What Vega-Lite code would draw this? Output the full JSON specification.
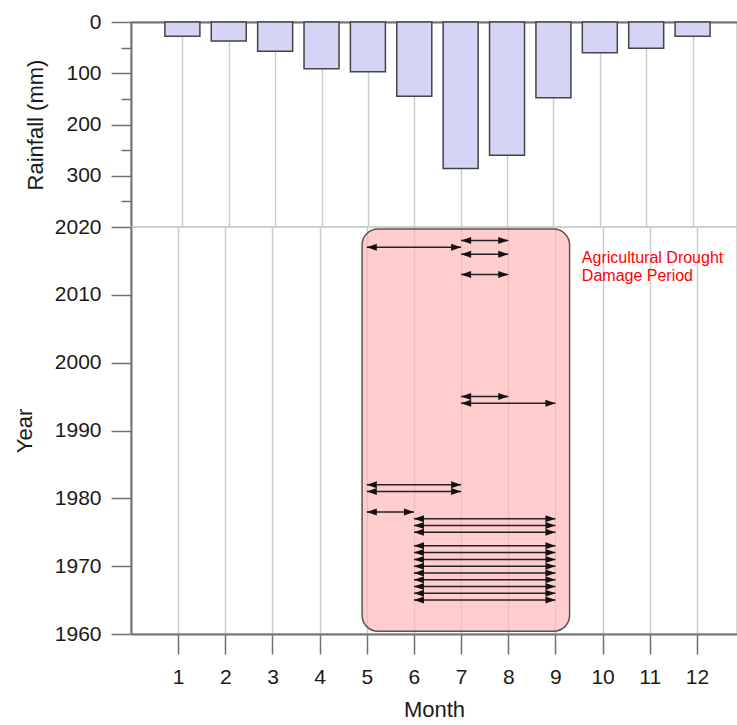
{
  "$schema": "https://vega.github.io/schema/vega-lite/v6.json",
  "padding": {"left": 12, "top": 10, "right": 0, "bottom": 5},
  "background": "white",
  "spacing": 0,
  "bounds": "flush",
  "config": {
    "font": "Liberation Sans",
    "view": {"stroke": "#cccccc", "strokeWidth": 1.5},
    "axis": {
      "labelFont": "Liberation Sans", "labelFontSize": 21, "labelColor": "#1a1a1a",
      "titleFont": "Liberation Sans", "titleFontSize": 22, "titleFontWeight": "normal", "titleColor": "#1a1a1a",
      "domainColor": "#707070", "domainWidth": 2, "tickColor": "#707070", "tickWidth": 1.5,
      "gridColor": "#cccccc", "gridWidth": 1.5, "labelOverlap": false
    }
  },
  "vconcat": [
    {
      "width": 606, "height": 205,
      "data": {"values": [
        {"month": 1, "rain": 28}, {"month": 2, "rain": 37}, {"month": 3, "rain": 57},
        {"month": 4, "rain": 91}, {"month": 5, "rain": 97}, {"month": 6, "rain": 145},
        {"month": 7, "rain": 286}, {"month": 8, "rain": 260}, {"month": 9, "rain": 148},
        {"month": 10, "rain": 60}, {"month": 11, "rain": 51}, {"month": 12, "rain": 28}
      ]},
      "mark": {"type": "bar", "orient": "vertical", "width": 35, "fill": "#d4d4f6", "stroke": "#444444", "strokeWidth": 1.5},
      "encoding": {
        "x": {"field": "month", "type": "quantitative", "scale": {"domain": [0, 12.85], "nice": false, "zero": false},
          "axis": {"orient": "top", "title": null, "labels": false, "ticks": false, "domain": true, "grid": true, "values": [1,2,3,4,5,6,7,8,9,10,11,12]}},
        "y": {"field": "rain", "type": "quantitative", "title": "Rainfall (mm)", "scale": {"domain": [0, 400], "reverse": true, "nice": false},
          "axis": {"values": [0,50,100,150,200,250,300,350], "grid": false, "tickSize": {"condition": {"test": "datum.value % 100 === 0", "value": 20}, "value": 10},
            "labelExpr": "datum.value % 100 === 0 ? datum.label : ''", "labelPadding": 10, "titlePadding": 18}}
      }
    },
    {
      "width": 606, "height": 407,
      "layer": [
        {
          "data": {"values": [{"start": 4.9, "end": 9.3, "top": 2019.7, "bottom": 1960.4}]},
          "mark": {"type": "rect", "cornerRadius": 16, "fill": "#ffb8b8", "fillOpacity": 0.7, "stroke": "#555555", "strokeWidth": 1.5},
          "encoding": {
            "x": {"field": "start", "type": "quantitative", "title": "Month", "scale": {"domain": [0, 12.85], "nice": false, "zero": false},
              "axis": {"values": [1,2,3,4,5,6,7,8,9,10,11,12], "grid": true, "tickSize": 20, "labelPadding": 12, "titlePadding": 12}},
            "x2": {"field": "end"},
            "y": {"field": "top", "type": "quantitative", "title": "Year", "scale": {"domain": [1960, 2020], "nice": false, "zero": false},
              "axis": {"values": [1960,1965,1970,1975,1980,1985,1990,1995,2000,2005,2010,2015,2020], "grid": false, "format": "d",
                "tickSize": {"condition": {"test": "datum.value % 10 === 0", "value": 20}, "value": 10},
                "labelExpr": "datum.value % 10 === 0 ? datum.label : ''", "labelPadding": 10, "titlePadding": 18}},
            "y2": {"field": "bottom"}
          }
        },
        {
          "data": {"name": "arrows", "values": [
            {"year": 2018, "start": 7, "end": 8}, {"year": 2017, "start": 5, "end": 7},
            {"year": 2016, "start": 7, "end": 8}, {"year": 2013, "start": 7, "end": 8},
            {"year": 1995, "start": 7, "end": 8}, {"year": 1994, "start": 7, "end": 9},
            {"year": 1982, "start": 5, "end": 7}, {"year": 1981, "start": 5, "end": 7},
            {"year": 1978, "start": 5, "end": 6}, {"year": 1977, "start": 6, "end": 9},
            {"year": 1976, "start": 6, "end": 9}, {"year": 1975, "start": 6, "end": 9},
            {"year": 1973, "start": 6, "end": 9}, {"year": 1972, "start": 6, "end": 9},
            {"year": 1971, "start": 6, "end": 9}, {"year": 1970, "start": 6, "end": 9},
            {"year": 1969, "start": 6, "end": 9}, {"year": 1968, "start": 6, "end": 9},
            {"year": 1967, "start": 6, "end": 9}, {"year": 1966, "start": 6, "end": 9},
            {"year": 1965, "start": 6, "end": 9}
          ]},
          "layer": [
            {
              "mark": {"type": "rule", "color": "#222222", "strokeWidth": 1.5},
              "encoding": {
                "x": {"field": "start", "type": "quantitative", "title": "Month"},
                "x2": {"field": "end"},
                "y": {"field": "year", "type": "quantitative", "title": "Year"}
              }
            },
            {
              "mark": {"type": "point", "shape": "M0,0L2,-0.7L2,0.7Z", "filled": true, "color": "#111111", "size": 100, "opacity": 1, "strokeWidth": 0},
              "encoding": {
                "x": {"field": "start", "type": "quantitative", "title": "Month"},
                "y": {"field": "year", "type": "quantitative", "title": "Year"}
              }
            },
            {
              "mark": {"type": "point", "shape": "M0,0L-2,-0.7L-2,0.7Z", "filled": true, "color": "#111111", "size": 100, "opacity": 1, "strokeWidth": 0},
              "encoding": {
                "x": {"field": "end", "type": "quantitative", "title": "Month"},
                "y": {"field": "year", "type": "quantitative", "title": "Year"}
              }
            }
          ]
        },
        {
          "data": {"values": [{"month": 9.56, "year": 2015.4, "label": "Agricultural Drought\nDamage Period"}]},
          "mark": {"type": "text", "align": "left", "baseline": "middle", "lineBreak": "\n", "lineHeight": 18, "fontSize": 16, "font": "Liberation Sans", "color": "#ff0000"},
          "encoding": {
            "x": {"field": "month", "type": "quantitative", "title": "Month"},
            "y": {"field": "year", "type": "quantitative", "title": "Year"},
            "text": {"field": "label"}
          }
        }
      ]
    }
  ]
}
